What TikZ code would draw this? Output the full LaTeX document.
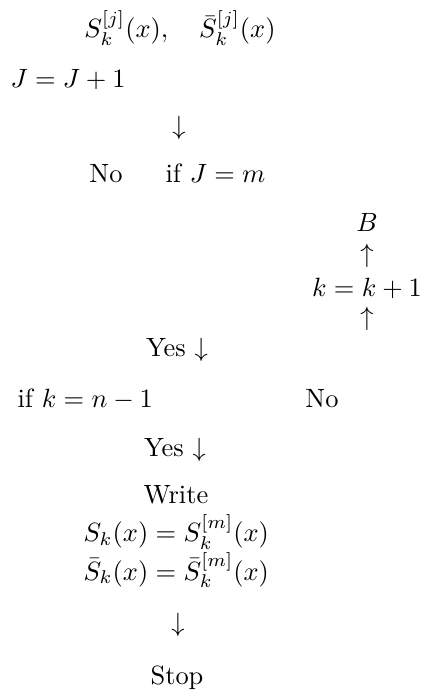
\documentclass[tikz,border=0pt]{standalone}
\begin{document}
\begin{tikzpicture}[x=0.0133cm,y=-0.0133cm,every node/.style={inner sep=0pt,anchor=base}]
  \useasboundingbox (0,0) rectangle (422,691);
  \node (sj) at (180,38) {$S_k^{[j]}(x), \quad \bar{S}_k^{[j]}(x)$};
  \node[anchor=base west] (jinc) at (10,88) {$J = J + 1$};
  \node (dn1) at (179,135) {$\downarrow$};
  \node (nojm) at (106,183) {No};
  \node[anchor=base west] (ifjm) at (165,183) {if $J = m$};
  \node (b) at (367,232) {$B$};
  \node (up1) at (367,263) {$\uparrow$};
  \node (kinc) at (367,297) {$k = k + 1$};
  \node (up2) at (367,326) {$\uparrow$};
  \node (yes1) at (177,357) {Yes $\downarrow$};
  \node[anchor=base west] (ifkn) at (17,407) {if $k = n - 1$};
  \node (nokn) at (322,407) {No};
  \node (yes2) at (175,456) {Yes $\downarrow$};
  \node (write) at (176,503) {Write};
  \node[anchor=base west,align=left] (sk) at (83,580)
    {$S_k(x) = S_k^{[m]}(x)$\\$\bar{S}_k(x) = \bar{S}_k^{[m]}(x)$};
  \node (dn2) at (178,631) {$\downarrow$};
  \node (stop) at (177,684) {Stop};
\end{tikzpicture}
\end{document}
